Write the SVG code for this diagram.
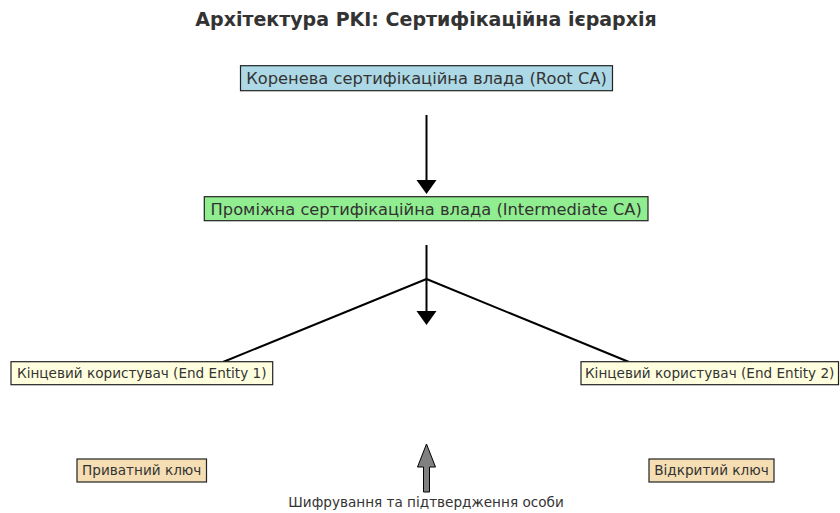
<svg xmlns="http://www.w3.org/2000/svg" width="840" height="513" viewBox="0 0 840 513">
<style>
text{font-family:"DejaVu Sans",sans-serif;fill:#333;text-anchor:middle}
.t{font-size:19px;font-weight:bold}
.l{font-size:16.3px}
.s{font-size:13.6px}
.b{font-size:13.6px}
.box{stroke:#222;stroke-width:1.2}
.ln{stroke:#000;stroke-width:2;fill:none}
</style>
<rect width="840" height="513" fill="#fff"/>
<text class="t" x="426" y="26">Архітектура PKI: Сертифікаційна ієрархія</text>
<g id="connectors">
<line class="ln" x1="426.5" y1="115" x2="426.5" y2="180"/>
<path d="M416.5,180 L436.5,180 L426.5,194 Z" fill="#000"/>
<line class="ln" x1="426.5" y1="245" x2="426.5" y2="311"/>
<path d="M416.5,311 L436.5,311 L426.5,325 Z" fill="#000"/>
<line class="ln" x1="426.5" y1="279" x2="223" y2="362" stroke-width="1.6"/>
<line class="ln" x1="426.5" y1="279" x2="629" y2="362" stroke-width="1.6"/>
<path d="M426.5,444 L435.5,467 L429.5,467 L429.5,492 L423.5,492 L423.5,467 L417.5,467 Z" fill="#808080" stroke="#000" stroke-width="1"/>
</g>
<g id="root">
<rect class="box" x="240.5" y="65.7" width="372" height="25" fill="#add8e6"/>
<text class="l" x="426.5" y="84">Коренева сертифікаційна влада (Root CA)</text>
</g>
<g id="intermediate">
<rect class="box" x="204.3" y="196.7" width="443.7" height="24" fill="#90ee90"/>
<text class="l" x="426.2" y="214.5">Проміжна сертифікаційна влада (Intermediate CA)</text>
</g>
<g id="ee1">
<rect class="box" x="11" y="361.7" width="261.7" height="23" fill="#ffffe0"/>
<text class="s" x="141.8" y="378">Кінцевий користувач (End Entity 1)</text>
</g>
<g id="ee2">
<rect class="box" x="581" y="361.7" width="257.5" height="23" fill="#ffffe0"/>
<text class="s" x="709.7" y="378">Кінцевий користувач (End Entity 2)</text>
</g>
<g id="private">
<rect class="box" x="77" y="459" width="129.5" height="23" fill="#f5deb3"/>
<text class="s" x="141.7" y="475.3">Приватний ключ</text>
</g>
<g id="public">
<rect class="box" x="649" y="459" width="125" height="23" fill="#f5deb3"/>
<text class="s" x="711.5" y="475.3">Відкритий ключ</text>
</g>
<text class="b" x="426" y="507">Шифрування та підтвердження особи</text>
</svg>
